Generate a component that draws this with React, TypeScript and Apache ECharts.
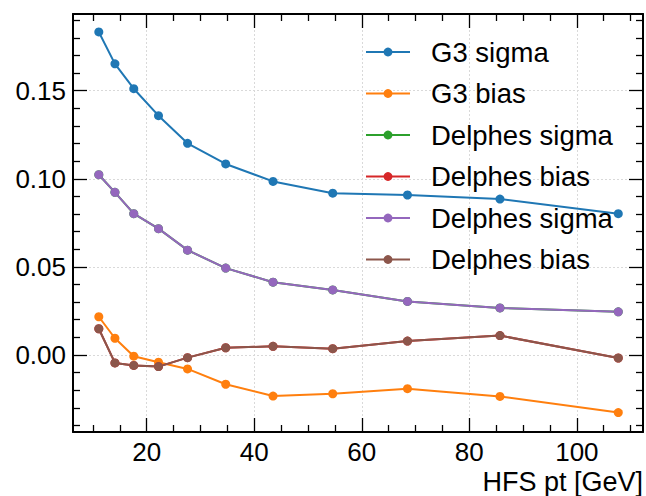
import React, { useEffect, useRef } from "react";
import * as echarts from "echarts";

const ptValues = [11.1, 14.1, 17.6, 22.2, 27.6, 34.7, 43.5, 54.6, 68.5, 85.7, 107.7];
const g3Sigma = [0.1833, 0.1652, 0.1511, 0.1358, 0.1201, 0.1084, 0.0985, 0.0918, 0.0908, 0.0885, 0.0802];
const g3Bias = [0.0217, 0.0095, -0.0007, -0.0041, -0.0079, -0.0166, -0.0233, -0.022, -0.0191, -0.0235, -0.0327];
const delphesSigma = [0.1023, 0.0923, 0.0802, 0.0717, 0.0595, 0.0493, 0.0413, 0.0369, 0.0304, 0.0267, 0.0245];
const delphesBias = [0.0149, -0.0045, -0.0059, -0.0066, -0.0015, 0.0041, 0.0049, 0.0036, 0.0079, 0.011, -0.0017];

const xMajorTicks = [20, 40, 60, 80, 100];
const xMinorTicks = [10, 15, 25, 30, 35, 45, 50, 55, 65, 70, 75, 85, 90, 95, 105, 110];
const yMajorTicks = [0, 0.05, 0.1, 0.15];
const yMinorTicks = [-0.04, -0.03, -0.02, -0.01, 0.01, 0.02, 0.03, 0.04, 0.06, 0.07, 0.08, 0.09, 0.11, 0.12, 0.13, 0.14, 0.16, 0.17, 0.18, 0.19];

const xAxisTitle = "HFS pt [GeV]";

const X_MIN = 6.3;
const X_MAX = 112.3;
const Y_MIN = -0.0437;
const Y_MAX = 0.1935;

const FONT = "Liberation Sans";

// id keeps legend entries distinct; label is what is shown
const seriesDefs = [
  { id: "g3s", label: "G3 sigma", data: g3Sigma, color: "#1f77b4" },
  { id: "g3b", label: "G3 bias", data: g3Bias, color: "#ff7f0e" },
  { id: "ds1", label: "Delphes sigma", data: delphesSigma, color: "#2ca02c" },
  { id: "db1", label: "Delphes bias", data: delphesBias, color: "#d62728" },
  { id: "ds2", label: "Delphes sigma", data: delphesSigma, color: "#9467bd" },
  { id: "db2", label: "Delphes bias", data: delphesBias, color: "#8c564b" },
];

function makeAxis(kind: "x" | "y", position: string, major: boolean, main: boolean) {
  const ticks = kind === "x" ? (major ? xMajorTicks : xMinorTicks) : major ? yMajorTicks : yMinorTicks;
  const ax: any = {
    type: "value",
    position,
    min: kind === "x" ? X_MIN : Y_MIN,
    max: kind === "x" ? X_MAX : Y_MAX,
    axisLine: { show: major, onZero: false, lineStyle: { color: "#000", width: 2 } },
    axisTick: {
      show: true,
      inside: true,
      length: major ? 14 : 7,
      customValues: ticks,
      lineStyle: { color: "#000", width: 1.3 },
    },
    axisLabel: { show: false },
    splitLine: { show: false },
  };
  if (main) {
    ax.axisLabel = {
      show: true,
      customValues: ticks,
      color: "#000",
      fontFamily: FONT,
      fontSize: 26,
      margin: kind === "x" ? 7 : 7,
      formatter: kind === "y" ? (v: number) => v.toFixed(2) : (v: number) => String(v),
    };
    ax.splitLine = {
      show: true,
      lineStyle: { color: "#d9d9d9", type: [2, 2], width: 1 },
    };
  }
  return ax;
}

export default function App() {
  const ref = useRef<HTMLDivElement>(null);
  useEffect(() => {
    if (!ref.current) return;
    const chart = echarts.init(ref.current, null, { renderer: "svg" });
    const labelOf: Record<string, string> = {};
    seriesDefs.forEach((s) => (labelOf[s.id] = s.label));
    const option: any = {
      animation: false,
      backgroundColor: "#fff",
      title: {
        text: xAxisTitle,
        right: 3,
        top: 469,
        padding: 0,
        textStyle: {
          color: "#000",
          fontFamily: FONT,
          fontSize: 27,
          fontWeight: "normal",
          lineHeight: 26,
        },
      },
      grid: {
        left: 73,
        top: 14,
        right: 3,
        bottom: 64,
        containLabel: false,
        outerBoundsMode: "none",
      },
      xAxis: [
        makeAxis("x", "bottom", true, true),
        makeAxis("x", "bottom", false, false),
        makeAxis("x", "top", true, false),
        makeAxis("x", "top", false, false),
      ],
      yAxis: [
        makeAxis("y", "left", true, true),
        makeAxis("y", "left", false, false),
        makeAxis("y", "right", true, false),
        makeAxis("y", "right", false, false),
      ],
      legend: {
        orient: "vertical",
        left: 365,
        top: 37,
        padding: 0,
        itemWidth: 44,
        itemHeight: 11,
        itemGap: 11.5,
        formatter: (name: string) => labelOf[name] ?? name,
        textStyle: {
          color: "#000",
          fontFamily: FONT,
          fontSize: 27.5,
          lineHeight: 30,
          padding: [0, 0, 0, 16],
        },
      },
      series: seriesDefs.map((s) => ({
        type: "line",
        name: s.id,
        xAxisIndex: 0,
        yAxisIndex: 0,
        data: ptValues.map((x, i) => [x, s.data[i]]),
        symbol: "circle",
        symbolSize: 9,
        showSymbol: true,
        color: s.color,
        lineStyle: { color: s.color, width: 2 },
        itemStyle: { color: s.color },
      })),
    };
    chart.setOption(option);
    return () => chart.dispose();
  }, []);
  return (
    <div
      ref={ref}
      style={{ position: "absolute", left: 0, top: 0, width: 646, height: 496 }}
    />
  );
}
